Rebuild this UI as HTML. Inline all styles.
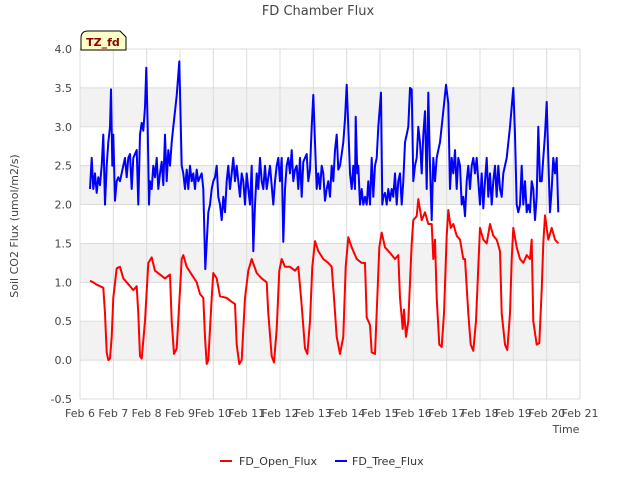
<!DOCTYPE html>
<html><head><meta charset="utf-8"><style>
body{margin:0;background:#fff;font-family:"Liberation Sans","DejaVu Sans",sans-serif}
svg text{font-family:"DejaVu Sans","Liberation Sans",sans-serif}
</style></head><body>
<svg id="chart" width="640" height="480" xmlns="http://www.w3.org/2000/svg">
<text x="318" y="15" text-anchor="middle" font-size="13" fill="#444">FD Chamber Flux</text>
<g id="bands"></g><g id="grid"></g><g id="axes"></g><g id="series"></g>
<text transform="translate(18,226) rotate(-90)" text-anchor="middle" font-size="11" fill="#444">Soil CO2 Flux (umol/m2/s)</text>
<text x="566" y="433" text-anchor="middle" font-size="11" fill="#444">Time</text>
<g>
<path d="M81,50 V38 Q81,31 88,31 H120 L126,37 V50 Z" fill="#ffffc8" stroke="#000" stroke-width="1"/>
<text x="103" y="46" text-anchor="middle" font-size="11" font-weight="bold" fill="#8b0000">TZ_fd</text></g>
<g>
<g><line x1="220" y1="461" x2="232" y2="461" stroke="#f00" stroke-width="2"/><text x="239" y="465" font-size="11" fill="#333">FD_Open_Flux</text></g>
<g><line x1="335" y1="461" x2="347" y2="461" stroke="#00f" stroke-width="2"/><text x="352" y="465" font-size="11" fill="#333">FD_Tree_Flux</text></g>
</g>
</svg>
<script>
const yTicks=[-0.5,0,0.5,1,1.5,2,2.5,3,3.5,4];
const yTickLabels=["-0.5","0.0","0.5","1.0","1.5","2.0","2.5","3.0","3.5","4.0"];
const xTicks=[0,1,2,3,4,5,6,7,8,9,10,11,12,13,14,15];
const xTickLabels=["Feb 6","Feb 7","Feb 8","Feb 9","Feb 10","Feb 11","Feb 12","Feb 13","Feb 14","Feb 15","Feb 16","Feb 17","Feb 18","Feb 19","Feb 20","Feb 21"];
// time in days since Feb 6 00:00
const openT=[0.3,0.4,0.5,0.6,0.7,0.75,0.8,0.85,0.9,0.95,1.0,1.1,1.2,1.3,1.4,1.5,1.6,1.7,1.75,1.8,1.85,1.95,2.05,2.15,2.25,2.4,2.55,2.7,2.75,2.82,2.9,3.0,3.05,3.1,3.2,3.35,3.5,3.6,3.7,3.75,3.8,3.85,3.95,4.0,4.1,4.2,4.4,4.55,4.65,4.7,4.78,4.85,4.95,5.05,5.15,5.3,5.45,5.6,5.65,5.75,5.82,5.9,5.98,6.05,6.15,6.3,6.45,6.55,6.65,6.75,6.82,6.9,6.97,7.05,7.15,7.3,7.45,7.55,7.62,7.7,7.8,7.9,7.97,8.05,8.15,8.3,8.45,8.55,8.6,8.7,8.75,8.85,8.92,8.98,9.05,9.15,9.3,9.45,9.55,9.6,9.68,9.72,9.78,9.85,9.95,10.0,10.1,10.15,10.25,10.35,10.45,10.55,10.6,10.65,10.7,10.78,10.85,10.92,11.0,11.05,11.12,11.2,11.3,11.4,11.5,11.55,11.65,11.72,11.8,11.88,11.95,12.0,12.1,12.2,12.3,12.4,12.5,12.6,12.65,12.75,12.82,12.9,12.95,13.0,13.1,13.2,13.3,13.4,13.5,13.55,13.6,13.7,13.78,13.85,13.9,13.95,14.05,14.15,14.25,14.35];
const openV=[1.02,1.0,0.97,0.95,0.93,0.6,0.1,0.0,0.02,0.3,0.8,1.18,1.2,1.05,1.0,0.95,0.9,0.95,0.6,0.05,0.02,0.5,1.25,1.32,1.15,1.1,1.05,1.1,0.5,0.08,0.15,0.9,1.3,1.35,1.2,1.1,1.0,0.85,0.8,0.3,-0.05,0.0,0.8,1.12,1.05,0.82,0.8,0.75,0.72,0.2,-0.05,0.0,0.8,1.15,1.3,1.12,1.05,1.0,0.6,0.05,-0.03,0.4,1.15,1.3,1.2,1.2,1.15,1.2,0.7,0.15,0.08,0.5,1.2,1.53,1.4,1.3,1.25,1.2,0.8,0.3,0.08,0.3,1.2,1.58,1.45,1.3,1.25,1.25,0.55,0.45,0.1,0.08,0.8,1.45,1.64,1.45,1.38,1.3,1.35,0.8,0.4,0.65,0.3,0.5,1.5,1.8,1.85,2.07,1.8,1.9,1.75,1.75,1.3,1.55,0.8,0.2,0.17,0.6,1.6,1.93,1.7,1.75,1.6,1.55,1.3,1.3,0.6,0.2,0.12,0.5,1.2,1.7,1.55,1.5,1.75,1.6,1.55,1.4,0.6,0.2,0.13,0.6,1.3,1.7,1.45,1.3,1.25,1.35,1.3,1.55,0.5,0.2,0.22,0.9,1.5,1.86,1.55,1.7,1.55,1.5];
const treeT=[0.3,0.35,0.4,0.45,0.5,0.55,0.6,0.65,0.7,0.75,0.8,0.85,0.9,0.93,0.97,1.0,1.05,1.1,1.15,1.2,1.3,1.35,1.4,1.45,1.5,1.55,1.6,1.7,1.75,1.8,1.85,1.9,1.95,1.99,2.03,2.07,2.1,2.15,2.2,2.25,2.3,2.35,2.4,2.45,2.5,2.55,2.6,2.65,2.7,2.75,2.8,2.9,2.98,3.05,3.1,3.15,3.2,3.25,3.3,3.35,3.4,3.45,3.5,3.55,3.65,3.7,3.76,3.8,3.85,3.9,3.95,4.0,4.05,4.1,4.15,4.2,4.25,4.3,4.35,4.4,4.45,4.5,4.55,4.6,4.65,4.7,4.75,4.8,4.85,4.9,4.95,5.0,5.05,5.1,5.15,5.2,5.25,5.3,5.35,5.4,5.45,5.5,5.55,5.6,5.7,5.8,5.85,5.9,5.95,6.0,6.05,6.1,6.15,6.2,6.25,6.3,6.35,6.4,6.45,6.5,6.55,6.6,6.65,6.7,6.75,6.8,6.85,6.9,6.95,7.0,7.05,7.1,7.15,7.2,7.25,7.3,7.35,7.4,7.45,7.5,7.55,7.6,7.65,7.7,7.75,7.8,7.85,7.9,7.95,8.0,8.05,8.1,8.15,8.2,8.25,8.27,8.32,8.35,8.4,8.45,8.5,8.55,8.6,8.65,8.7,8.75,8.8,8.85,8.9,8.95,9.03,9.07,9.1,9.15,9.2,9.25,9.3,9.35,9.4,9.45,9.5,9.55,9.6,9.65,9.7,9.75,9.8,9.85,9.9,9.95,10.0,10.05,10.1,10.15,10.2,10.25,10.3,10.35,10.4,10.45,10.5,10.55,10.6,10.65,10.7,10.75,10.8,10.9,10.98,11.05,11.1,11.15,11.2,11.25,11.3,11.35,11.4,11.45,11.5,11.55,11.6,11.65,11.7,11.75,11.8,11.85,11.9,11.95,12.0,12.05,12.1,12.15,12.2,12.25,12.3,12.35,12.4,12.45,12.5,12.55,12.6,12.65,12.7,12.8,12.9,13.0,13.05,13.1,13.15,13.2,13.25,13.3,13.35,13.4,13.45,13.5,13.55,13.6,13.65,13.7,13.75,13.8,13.85,13.9,13.95,14.0,14.05,14.1,14.15,14.2,14.25,14.3,14.35];
const treeV=[2.2,2.6,2.2,2.4,2.15,2.35,2.25,2.5,2.9,2.0,2.5,2.8,3.0,3.48,2.5,2.9,2.05,2.3,2.35,2.3,2.5,2.6,2.35,2.6,2.65,2.2,2.6,2.7,2.0,2.9,3.05,2.95,3.25,3.76,3.0,2.0,2.3,2.2,2.5,2.35,2.6,2.2,2.4,2.55,2.25,2.9,2.3,2.7,2.5,2.8,3.0,3.4,3.84,2.5,2.4,2.2,2.45,2.2,2.5,2.3,2.4,2.2,2.45,2.3,2.4,2.2,1.17,1.5,1.9,2.0,2.2,2.3,2.35,2.5,2.1,2.0,1.8,2.1,1.9,2.3,2.5,2.2,2.4,2.6,2.3,2.5,2.3,2.1,2.4,2.3,2.0,2.4,2.2,2.0,2.5,1.4,2.0,2.4,2.2,2.6,2.3,2.2,2.5,2.2,2.5,2.0,2.3,2.5,2.6,2.3,2.6,1.52,2.2,2.5,2.6,2.4,2.7,2.3,2.45,2.5,2.2,2.6,2.1,2.55,2.6,2.65,2.3,2.45,3.0,3.41,2.8,2.2,2.4,2.2,2.5,2.4,2.05,2.2,2.3,2.1,2.5,2.3,2.7,2.9,2.45,2.5,2.65,2.8,3.1,3.54,3.0,2.4,2.2,2.5,2.2,3.13,2.4,2.5,2.0,2.2,2.0,2.1,2.0,2.3,2.0,2.6,2.1,2.5,2.6,3.0,3.44,2.0,2.1,2.15,2.0,2.2,2.05,2.2,2.1,2.4,2.0,2.3,2.4,2.0,2.3,2.8,2.9,3.0,3.5,3.48,2.3,2.5,2.6,3.0,2.8,2.4,2.9,3.2,2.2,3.44,2.5,1.8,2.6,2.3,2.6,2.7,2.8,3.2,3.54,3.3,2.2,2.6,2.4,2.7,2.2,2.6,2.5,2.0,2.1,1.85,2.3,2.5,2.2,2.5,2.6,2.4,2.6,2.3,2.0,2.4,1.95,2.3,2.6,2.1,2.4,2.0,2.3,2.5,2.1,2.5,2.2,2.1,2.4,2.6,3.0,3.5,2.9,2.0,1.9,2.0,2.5,2.0,2.3,1.9,2.0,1.9,2.3,2.2,1.8,2.1,3.0,2.3,2.3,2.6,2.9,3.32,2.6,1.9,2.2,2.6,2.4,2.6,1.9];
const X0=80,X1=580,Y0=399,Y1=49;
const xs=d=>X0+(d-0)/(15-0)*(X1-X0);
const ys=v=>Y0-(v+0.5)/4.5*(Y0-Y1);
const NS="http://www.w3.org/2000/svg";
function mk(tag,attrs,parent){const e=document.createElementNS(NS,tag);for(const k in attrs)e.setAttribute(k,attrs[k]);parent.appendChild(e);return e;}
const bands=document.getElementById('bands'),grid=document.getElementById('grid'),axes=document.getElementById('axes'),series=document.getElementById('series');
for(let i=0;i<yTicks.length-1;i++){
  if(yTicks[i]>=0 && Math.round(yTicks[i]*2)%2===0){
    const r=mk('rect',{x:X0,y:ys(yTicks[i]+0.5),width:X1-X0,height:ys(yTicks[i])-ys(yTicks[i]+0.5),fill:'#f2f2f2'},bands);
    
    
  }
}
yTicks.forEach((v,i)=>{
  const l=mk('line',{x1:X0,x2:X1,y1:ys(v),y2:ys(v),stroke:'#dcdcdc','stroke-width':1},grid);
  
  
  const t=mk('text',{x:X0-8,y:ys(v)+4,'text-anchor':'end','font-size':11,fill:'#444'},axes);
  
  
  t.textContent=yTickLabels[i];
});
xTicks.forEach((d,i)=>{
  const l=mk('line',{x1:xs(d),x2:xs(d),y1:Y1,y2:Y0,stroke:'#dcdcdc','stroke-width':1},grid);
  
  
  const t=mk('text',{x:xs(d),y:Y0+18,'text-anchor':'middle','font-size':11,fill:'#444'},axes);
  
  
  t.textContent=xTickLabels[i];
});
function line(T,V,color,name){
  const d=T.map((t,i)=>(i?'L':'M')+xs(t).toFixed(1)+','+ys(V[i]).toFixed(1)).join('');
  const p=mk('path',{d:d,fill:'none',stroke:color,'stroke-width':2,'stroke-linejoin':'round'},series);
  
  
}
line(openT,openV,'#ff0000','open-flux-line');
line(treeT,treeV,'#0000ff','tree-flux-line');
</script>
</body></html>
